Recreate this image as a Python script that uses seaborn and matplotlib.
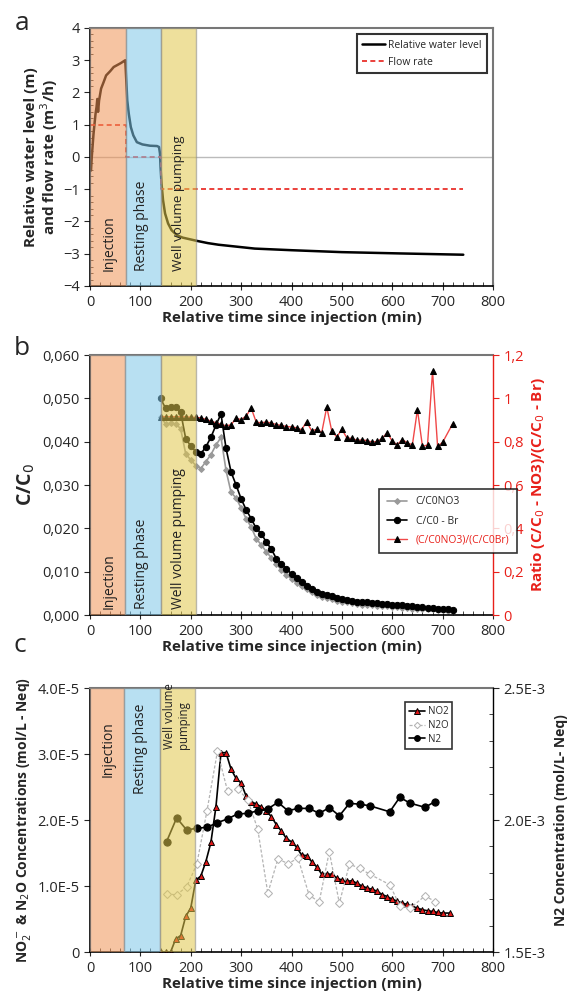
import matplotlib
matplotlib.use("Agg")
import matplotlib.pyplot as plt
import seaborn as sns
from matplotlib.ticker import MultipleLocator, FixedLocator

sns.set_style("ticks")
plt.rcParams["font.family"] = ["Open Sans", "DejaVu Sans"]

# ---- data ----
# panel a: relative water level and flow rate
level_t = [2, 3.5, 7, 11, 13, 14.5, 16, 18, 22, 27, 32, 40, 47, 54, 61, 68, 70, 72, 74, 77,
           81, 86, 93, 104, 119, 133, 137, 139, 140, 142, 145, 149, 155, 162, 173, 184, 198,
           212, 234, 255, 291, 327, 400, 500, 615, 741]
level = [-0.42, 0.0, 0.72, 1.34, 1.55, 1.8, 1.4, 1.75, 2.12, 2.32, 2.53, 2.66, 2.79, 2.85,
         2.91, 2.98, 3.0, 2.38, 1.75, 1.34, 0.93, 0.67, 0.46, 0.39, 0.35, 0.34, 0.31, 0.1,
         -0.31, -0.83, -1.34, -1.75, -2.06, -2.27, -2.43, -2.5, -2.55, -2.6, -2.67, -2.72,
         -2.78, -2.84, -2.89, -2.95, -2.99, -3.03]
flow_t = [0, 72, 72, 140, 140, 740]
flow = [1, 1, 0, 0, -1, -1]

# panel b: normalised concentrations
conc_t = list(range(140, 721, 10))
c_no3 = [0.0458, 0.0441, 0.0442, 0.0441, 0.0430, 0.0372, 0.0358, 0.0345, 0.0338, 0.0354,
         0.0370, 0.0392, 0.0410, 0.0334, 0.0283, 0.0270, 0.0247, 0.0222, 0.0203, 0.0176,
         0.0162, 0.0146, 0.0132, 0.0118, 0.0104, 0.0093, 0.0083, 0.0074, 0.0066, 0.0059,
         0.0053, 0.0047, 0.0042, 0.0039, 0.0036, 0.0033, 0.0031, 0.0029, 0.0027, 0.0025,
         0.0024, 0.0023, 0.0022, 0.0021, 0.0020, 0.0020, 0.0019, 0.0018, 0.0017, 0.0016,
         0.0015, 0.0015, 0.0014, 0.0013, 0.0013, 0.0012, 0.0011, 0.0010, 0.0010]
c_br = [0.0500, 0.0477, 0.0481, 0.0481, 0.0468, 0.0407, 0.0390, 0.0377, 0.0372, 0.0388,
        0.0410, 0.0438, 0.0464, 0.0385, 0.0330, 0.0300, 0.0268, 0.0243, 0.0222, 0.0200,
        0.0188, 0.0168, 0.0152, 0.0130, 0.0117, 0.0106, 0.0095, 0.0085, 0.0076, 0.0068,
        0.0061, 0.0054, 0.0049, 0.0046, 0.0043, 0.0040, 0.0037, 0.0035, 0.0033, 0.0031,
        0.0030, 0.0029, 0.0028, 0.0027, 0.0026, 0.0025, 0.0024, 0.0023, 0.0022, 0.0021,
        0.0020, 0.0019, 0.0018, 0.0017, 0.0016, 0.0015, 0.0014, 0.0013, 0.0012]
ratio_t = list(range(140, 701, 10)) + [720]
ratio = [0.915, 0.915, 0.915, 0.915, 0.915, 0.914, 0.913, 0.912, 0.910, 0.903, 0.895,
         0.887, 0.880, 0.873, 0.878, 0.908, 0.902, 0.918, 0.955, 0.890, 0.887, 0.891,
         0.886, 0.879, 0.875, 0.870, 0.868, 0.864, 0.855, 0.892, 0.850, 0.857, 0.842,
         0.960, 0.848, 0.822, 0.857, 0.817, 0.815, 0.806, 0.808, 0.805, 0.798, 0.801,
         0.815, 0.842, 0.802, 0.786, 0.810, 0.794, 0.786, 0.948, 0.778, 0.785, 1.125,
         0.778, 0.797, 0.883]

# panel c: NO2, N2O, N2
no2_t = list(range(140, 701, 10)) + [715]
no2 = [0, 0, 0, 1.96e-6, 2.5e-6, 5.4e-6, 6.65e-6, 1.09e-5, 1.15e-5, 1.37e-5, 1.66e-5,
       2.2e-5, 3.02e-5, 3.02e-5, 2.77e-5, 2.63e-5, 2.56e-5, 2.36e-5, 2.28e-5, 2.24e-5,
       2.2e-5, 2.14e-5, 2.05e-5, 1.93e-5, 1.83e-5, 1.72e-5, 1.67e-5, 1.59e-5, 1.47e-5,
       1.46e-5, 1.37e-5, 1.29e-5, 1.18e-5, 1.18e-5, 1.18e-5, 1.12e-5, 1.09e-5, 1.07e-5,
       1.08e-5, 1.04e-5, 1.0e-5, 9.7e-6, 9.5e-6, 9.2e-6, 8.7e-6, 8.4e-6, 8.0e-6, 7.7e-6,
       7.4e-6, 7.2e-6, 6.9e-6, 6.65e-6, 6.4e-6, 6.25e-6, 6.15e-6, 6.0e-6, 5.9e-6, 5.9e-6]
gas_t = [152, 172, 192, 212, 232, 253, 273, 293, 313, 333, 353, 373, 393, 413, 435, 455,
         475, 495, 515, 535, 555, 595, 615, 635, 665, 685]
n2o = [8.8e-6, 8.66e-6, 9.9e-6, 1.33e-5, 2.13e-5, 3.04e-5, 2.44e-5, 2.47e-5, 2.31e-5,
       1.86e-5, 8.9e-6, 1.41e-5, 1.34e-5, 1.42e-5, 8.6e-6, 7.6e-6, 1.52e-5, 7.4e-6,
       1.33e-5, 1.27e-5, 1.18e-5, 1.02e-5, 7.0e-6, 6.6e-6, 8.5e-6, 7.65e-6]
n2 = [1.918e-3, 2.008e-3, 1.962e-3, 1.969e-3, 1.972e-3, 1.990e-3, 2.004e-3, 2.023e-3,
      2.025e-3, 2.035e-3, 2.042e-3, 2.067e-3, 2.035e-3, 2.044e-3, 2.044e-3, 2.025e-3,
      2.047e-3, 2.016e-3, 2.063e-3, 2.060e-3, 2.054e-3, 2.031e-3, 2.086e-3, 2.064e-3,
      2.048e-3, 2.070e-3]

phase_names = ["Injection", "Resting phase", "Well volume pumping"]
ratio_ticklabels = ["0", "0,2", "0,4", "0,6", "0,8", "1", "1,2"]
c_left_ticklabels = ["0", "1.0E-5", "2.0E-5", "3.0E-5", "4.0E-5"]
c_right_ticklabels = ["1.5E-3", "2.0E-3", "2.5E-3"]

band_colors = ["#F09456", "#7EC8E9", "#E0C74B"]
RED = "#E8201A"
TICK_FS = 9.5
LAB_FS = 10
LEG_FONT = {"family": ["Liberation Sans Narrow", "Open Sans"], "size": 7.5}


def draw_bands(ax, edges, ytext, va, texts=phase_names, xtext=(38, 102, 176), ma="center",
               sizes=(10, 10, 10)):
    for (x0, x1), col in zip(zip(edges[:-1], edges[1:]), band_colors):
        ax.axvspan(x0, x1, facecolor=col, edgecolor="#8a8a8a", lw=1.0, alpha=0.55, zorder=3)
    for x, txt, v, fs in zip(xtext, texts, va, sizes):
        ax.text(x, ytext, txt, rotation=90, ha="center", va=v, fontsize=fs,
                color="#222222", zorder=4, linespacing=1.15, multialignment=ma)


def style_axes(ax):
    ax.set_xlim(0, 800)
    ax.xaxis.set_major_locator(MultipleLocator(100))
    ax.xaxis.set_minor_locator(MultipleLocator(20))
    ax.tick_params(axis="x", which="major", direction="inout", length=6, labelsize=TICK_FS + 1)
    ax.tick_params(axis="x", which="minor", direction="in", length=3)
    ax.tick_params(axis="y", which="major", direction="out", length=4, labelsize=TICK_FS + 1)
    ax.tick_params(axis="y", which="minor", direction="in", length=2)
    for s in ["left", "bottom"]:
        ax.spines[s].set_color("black")
        ax.spines[s].set_linewidth(1.2)
    ax.spines["top"].set_color("#777777")
    ax.spines["top"].set_linewidth(1.5)
    ax.set_xlabel("Relative time since injection (min)", fontsize=LAB_FS + 1,
                  fontweight="bold", labelpad=1)


fig = plt.figure(figsize=(5.68, 9.97), dpi=100)
W, H = 568, 997
L, R = 90, 493


def rect(top, bottom):
    return [L / W, 1 - bottom / H, (R - L) / W, (bottom - top) / H]


# ---- panel a ----
ax_a = fig.add_axes(rect(28, 286))
ax_a.axhline(0, color="#bbbbbb", lw=1.0, zorder=1)
sns.lineplot(x=level_t, y=level, ax=ax_a, color="black", lw=1.8, estimator=None,
             sort=False, label="Relative water level")
sns.lineplot(x=flow_t, y=flow, ax=ax_a, color=RED, lw=1.2,
             estimator=None, sort=False, label="Flow rate")
ax_a.lines[-1].set_dashes((3, 2))
draw_bands(ax_a, [0, 72, 141, 210], -3.55, ["bottom"] * 3, sizes=(10, 10, 9.6))
style_axes(ax_a)
ax_a.set_ylim(-4, 4)
ax_a.yaxis.set_major_locator(MultipleLocator(1))
ax_a.yaxis.set_minor_locator(MultipleLocator(0.2))
ax_a.spines["right"].set_color("#777777")
ax_a.spines["right"].set_linewidth(1.5)
ax_a.set_ylabel("Relative water level (m)\nand flow rate (m$^3$/h)", fontsize=LAB_FS + 1,
                fontweight="bold", labelpad=2, linespacing=1.0)
leg = ax_a.legend(loc="upper right", bbox_to_anchor=(0.997, 0.995), prop=LEG_FONT,
                  frameon=True, fancybox=False, edgecolor="black", handlelength=2.2,
                  borderpad=0.5, labelspacing=0.6, handletextpad=0.3)
leg.get_frame().set_linewidth(1.5)
fig.text(22 / W, 1 - 24 / H, "a", fontsize=19, ha="center", va="center")

# ---- panel b ----
ax_b = fig.add_axes(rect(355, 615))
ax_b2 = ax_b.twinx()
sns.lineplot(x=conc_t, y=c_no3, ax=ax_b, color="#9a9a9a", lw=1.2, marker="D",
             markersize=3, markeredgecolor="#9a9a9a", estimator=None, sort=False,
             label="C/C0NO3")
sns.lineplot(x=conc_t, y=c_br, ax=ax_b, color="black", lw=1.2, marker="o", markersize=4.5,
             markeredgecolor="black", estimator=None, sort=False, label="C/C0 - Br")
sns.lineplot(x=ratio_t, y=ratio, ax=ax_b2, color="#F04848", lw=1.0, marker="^",
             markersize=4, markerfacecolor="black", markeredgecolor="black",
             estimator=None, sort=False, label="(C/C0NO3)/(C/C0Br)")
draw_bands(ax_b2, [0, 70, 140, 210], 0.028, ["bottom"] * 3)
style_axes(ax_b)
ax_b.set_ylim(0, 0.060)
ax_b.yaxis.set_major_locator(MultipleLocator(0.010))
ax_b.yaxis.set_major_formatter(lambda v, pos: f"{v:.3f}".replace(".", ","))
ax_b2.set_ylim(0, 1.2)
ax_b2.yaxis.set_major_locator(FixedLocator([0, 0.2, 0.4, 0.6, 0.8, 1.0, 1.2]))
ax_b2.set_yticklabels(ratio_ticklabels)
ax_b2.tick_params(axis="y", colors=RED, labelsize=TICK_FS + 1, direction="out", length=4)
for s in ["left", "top", "bottom"]:
    ax_b2.spines[s].set_visible(False)
ax_b.spines["right"].set_visible(False)
ax_b2.spines["right"].set_color(RED)
ax_b2.spines["right"].set_linewidth(1.0)
ax_b.set_ylabel("C/C$_0$", fontsize=LAB_FS + 4, fontweight="bold", labelpad=4)
ax_b2.set_ylabel("Ratio (C/C$_0$ - NO3)/(C/C$_0$ - Br)", fontsize=LAB_FS + 1,
                 fontweight="bold", color=RED, labelpad=4)
hb1, lb1 = ax_b.get_legend_handles_labels()
hb2, lb2 = ax_b2.get_legend_handles_labels()
ax_b.get_legend().remove()
leg_b = ax_b2.legend(hb1 + hb2, lb1 + lb2, loc="upper left", bbox_to_anchor=(0.705, 0.505),
                     prop=LEG_FONT, frameon=True, fancybox=False, edgecolor="black",
                     handlelength=2.0, borderpad=0.7, labelspacing=0.8)
leg_b.get_frame().set_linewidth(1.2)
leg_b.set_zorder(6)
leg_b.get_texts()[2].set_color(RED)
fig.text(22 / W, 1 - 348 / H, "b", fontsize=19, ha="center", va="center")

# ---- panel c ----
ax_c = fig.add_axes(rect(688, 952))
ax_c2 = ax_c.twinx()
sns.lineplot(x=no2_t, y=no2, ax=ax_c, color="black", lw=1.2, marker="^", markersize=4.8,
             markerfacecolor="#E01818", markeredgecolor="black", markeredgewidth=0.7,
             estimator=None, sort=False, label="NO2")
sns.lineplot(x=gas_t, y=n2o, ax=ax_c, color="#b4b4b4", lw=0.9, marker="D",
             markersize=4, markerfacecolor="white", markeredgecolor="#b4b4b4",
             estimator=None, sort=False, label="N2O")
ax_c.lines[-1].set_dashes((2.5, 1.5))
sns.lineplot(x=gas_t, y=n2, ax=ax_c2, color="black", lw=1.2, marker="o", markersize=5.2,
             markeredgecolor="black", estimator=None, sort=False, label="N2")
draw_bands(ax_c2, [0, 68, 138, 208], 2.27e-3, ["center", "center", "bottom"],
           texts=["Injection", "Resting phase", "Well volume\npumping"],
           xtext=(36, 101, 172), ma="left", sizes=(10, 10, 8.3))
style_axes(ax_c)
ax_c.set_ylim(0, 4.0e-5)
ax_c.yaxis.set_major_locator(FixedLocator([0, 1e-5, 2e-5, 3e-5, 4e-5]))
ax_c.set_yticklabels(c_left_ticklabels)
ax_c2.set_ylim(1.5e-3, 2.5e-3)
ax_c2.yaxis.set_major_locator(FixedLocator([1.5e-3, 2.0e-3, 2.5e-3]))
ax_c2.set_yticklabels(c_right_ticklabels)
ax_c2.yaxis.set_minor_locator(MultipleLocator(1e-4))
ax_c2.tick_params(axis="y", which="major", labelsize=TICK_FS + 1, direction="out", length=4)
ax_c2.tick_params(axis="y", which="minor", direction="in", length=3)
for s in ["left", "top", "bottom"]:
    ax_c2.spines[s].set_visible(False)
ax_c.spines["right"].set_visible(False)
ax_c2.spines["right"].set_color("black")
ax_c2.spines["right"].set_linewidth(1.0)
ax_c.set_ylabel("NO$_2^-$ & N$_2$O Concentrations (mol/L - Neq)", fontsize=LAB_FS,
                fontweight="bold", labelpad=3)
ax_c2.set_ylabel("N2 Concentration (mol/L- Neq)", fontsize=LAB_FS, fontweight="bold",
                 labelpad=6)
hc1, lc1 = ax_c.get_legend_handles_labels()
hc2, lc2 = ax_c2.get_legend_handles_labels()
ax_c.get_legend().remove()
leg_c = ax_c2.legend(hc1 + hc2, lc1 + lc2, loc="upper left", bbox_to_anchor=(0.77, 0.965),
                     prop={"family": LEG_FONT["family"], "size": 7}, frameon=True,
                     fancybox=False, edgecolor="black", handlelength=1.6, borderpad=0.4,
                     labelspacing=0.3, markerscale=0.8, handletextpad=0.3)
leg_c.get_frame().set_linewidth(1.2)
leg_c.set_zorder(6)
fig.text(20 / W, 1 - 645 / H, "c", fontsize=19, ha="center", va="center")

fig.savefig("out.png", dpi=100)
